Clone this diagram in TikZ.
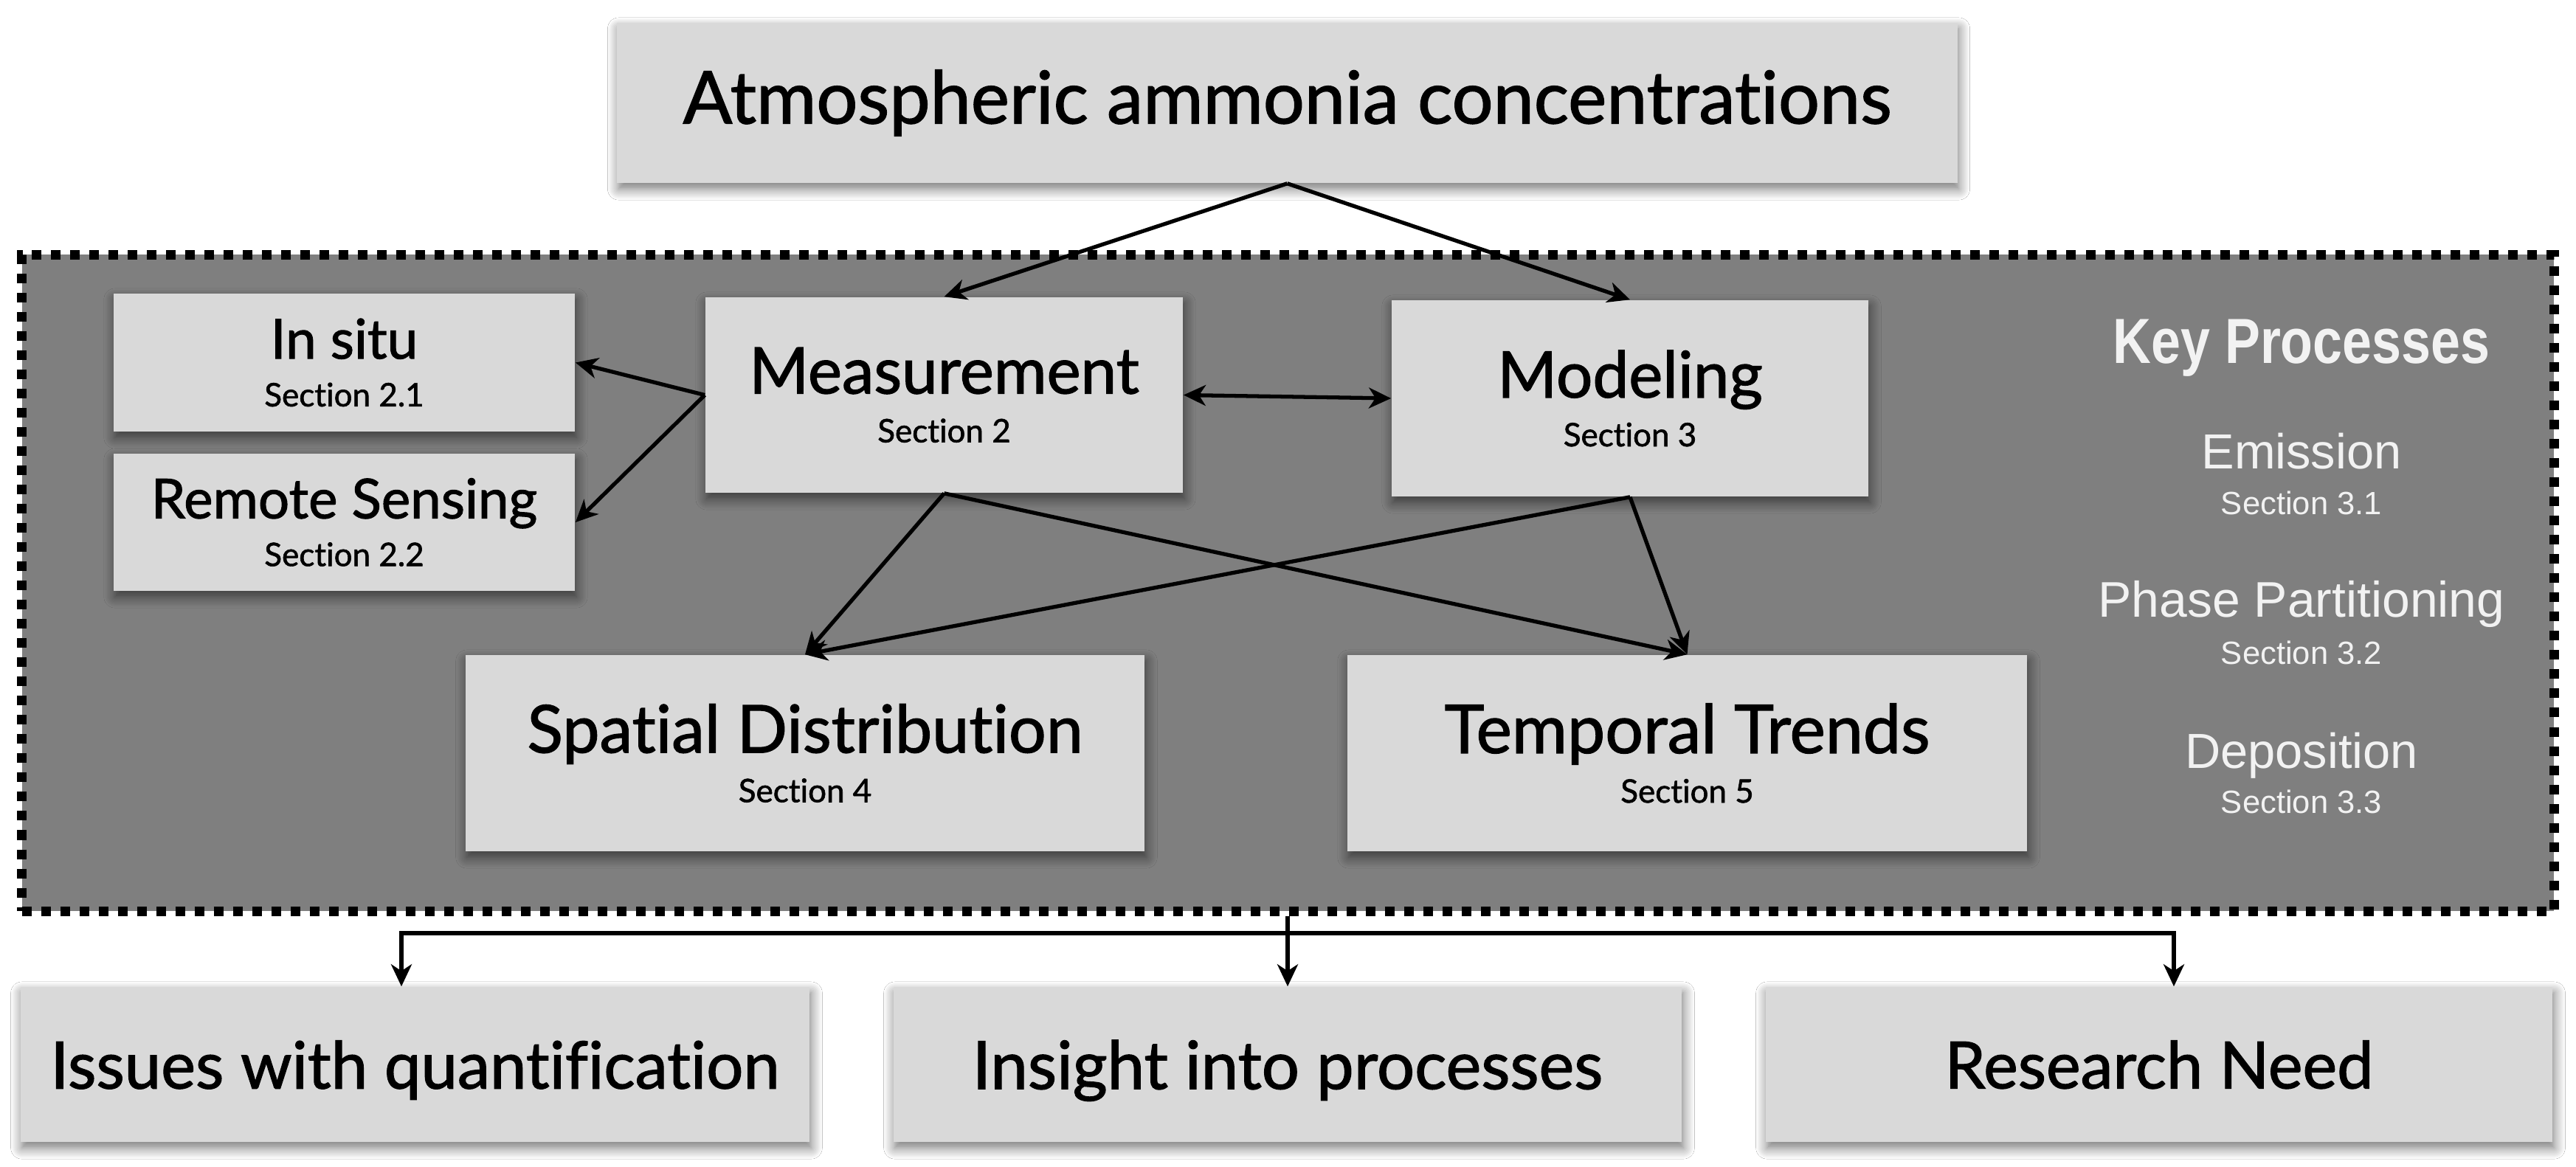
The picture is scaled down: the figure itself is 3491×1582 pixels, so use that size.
\documentclass[tikz,border=0pt]{standalone}
\usepackage{fontspec}
\setmainfont[Ligatures={NoCommon},FakeBold=1.4]{Lato}
\newfontfamily\kpfont{Liberation Sans}
\newfontfamily\kpnarrow[FakeStretch=0.83]{Liberation Sans}
\usetikzlibrary{arrows.meta,shadows.blur}
\definecolor{boxgray}{HTML}{D9D9D9}
\definecolor{framegray}{HTML}{7F7F7F}
\definecolor{kpwhite}{HTML}{F2F2F2}
\newcommand\secfnt{\fontsize{12.5}{14}\selectfont}
\begin{document}
\begin{tikzpicture}[x=0.01cm,y=-0.01cm,
  box/.style={fill=boxgray, draw=none, inner sep=0pt, align=center,
    blur shadow={shadow xshift=0.02cm, shadow yshift=-0.08cm,
      shadow blur radius=0.15cm, shadow blur steps=8, shadow opacity=55}},
  arr/.style={line width=1.5pt, -{Stealth[length=0.3cm,width=0.28cm,inset=0.09cm]}},
  dbl/.style={line width=1.5pt, {Stealth[length=0.3cm,width=0.28cm,inset=0.09cm]}-{Stealth[length=0.3cm,width=0.28cm,inset=0.09cm]}},
  kp/.style={text=kpwhite, inner sep=0pt, anchor=base},
  framebox/.style={fill=framegray, draw=black, line width=0.13cm,
    dash pattern=on 0.13cm off 0.13cm, inner sep=0pt}
]
\useasboundingbox (0,0) rectangle (3491,1582);
\fill[white] (0,0) rectangle (3491,1582);

% frame
\node[framebox, minimum width=34.295cm, minimum height=8.895cm] (frame) at (1745.25,790.25) {};

% top
\node[box, minimum width=18.15cm, minimum height=2.17cm,
  font=\fontsize{28.1}{30}\selectfont] (top) at (1744.5,139.5) {Atmospheric ammonia concentrations};

% measurement group
\node[box, minimum width=6.25cm, minimum height=1.87cm,
  font=\fontsize{21.2}{18.4}\selectfont] (insitu) at (466.5,491.5) {In situ\\{\secfnt Section 2.1}};
\node[box, minimum width=6.25cm, minimum height=1.86cm,
  font=\fontsize{21.2}{18.4}\selectfont] (remote) at (466.5,708) {Remote Sensing\\{\secfnt Section 2.2}};
\node[box, minimum width=6.47cm, minimum height=2.65cm,
  font=\fontsize{24.8}{18.8}\selectfont] (meas) at (1279.5,535.5) {Measurement\\{\secfnt Section 2}};
\node[box, minimum width=6.46cm, minimum height=2.66cm,
  font=\fontsize{24.8}{18.8}\selectfont] (model) at (2209,540) {Modeling\\{\secfnt Section 3}};
\node[box, minimum width=9.2cm, minimum height=2.66cm,
  font=\fontsize{25.5}{19.1}\selectfont] (spatial) at (1091,1021) {Spatial Distribution\\{\secfnt Section 4}};
\node[box, minimum width=9.21cm, minimum height=2.66cm,
  font=\fontsize{26}{19.1}\selectfont] (temporal) at (2286.5,1021) {Temporal Trends\\{\secfnt Section 5}};

% key processes
\node[kp, font=\kpnarrow\bfseries\fontsize{24.6}{28}\selectfont] (kptitle) at (3119,492) {Key Processes};
\node[kp, font=\kpfont\fontsize{19}{21}\selectfont] (emis) at (3119,635) {Emission};
\node[kp, font=\kpfont\fontsize{12.4}{14}\selectfont] (emissec) at (3119,697) {Section 3.1};
\node[kp, font=\kpfont\fontsize{19.3}{21}\selectfont] (phase) at (3119,836) {Phase Partitioning};
\node[kp, font=\kpfont\fontsize{12.4}{14}\selectfont] (phasesec) at (3119,900) {Section 3.2};
\node[kp, font=\kpfont\fontsize{19}{21}\selectfont] (depo) at (3119,1041) {Deposition};
\node[kp, font=\kpfont\fontsize{12.4}{14}\selectfont] (deposec) at (3119,1102) {Section 3.3};

% bottom
\node[box, minimum width=10.69cm, minimum height=2.1cm, text depth=0pt,
  font=\fontsize{25.2}{28}\selectfont] (issues) at (562.5,1443) {Issues with quantification};
\node[box, minimum width=10.68cm, minimum height=2.1cm, text depth=0pt,
  font=\fontsize{25.7}{28}\selectfont] (insight) at (1745,1443) {Insight into processes};
\node[box, minimum width=10.66cm, minimum height=2.1cm, text depth=0pt,
  font=\fontsize{25.1}{28}\selectfont] (research) at (2926,1443) {Research Need};

% connectors
\draw[arr] (top.south) -- (meas.north);
\draw[arr] (top.south) -- (model.north);
\draw[arr] (meas.west) -- (insitu.east);
\draw[arr] (meas.west) -- (remote.east);
\draw[dbl] (meas.east) -- (model.west);
\draw[arr] (meas.south) -- (spatial.north);
\draw[arr] (meas.south) -- (temporal.north);
\draw[arr] (model.south) -- (spatial.north);
\draw[arr] (model.south) -- (temporal.north);

\coordinate (jl) at (544,1265);
\coordinate (jr) at (2946,1265);
\draw[arr] (jr) -- (jl) -- (issues.north -| jl);
\draw[arr] (jl) -- (jr) -- (research.north -| jr);
\draw[arr] (frame.south -| insight.north) -- (insight.north);
\end{tikzpicture}
\end{document}
